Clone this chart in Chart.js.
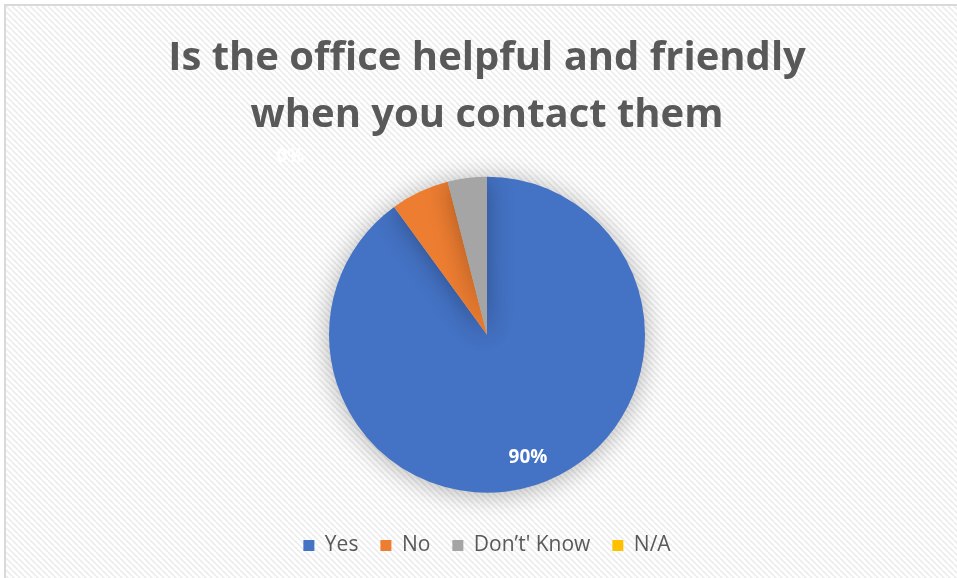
<!DOCTYPE html>
<html><head><meta charset="utf-8">
<script src="https://cdn.jsdelivr.net/npm/chart.js@4.4.1/dist/chart.umd.min.js"></script>
<style>
html,body{margin:0;padding:0;background:#fff;}
#wrap{position:absolute;left:0;top:0;width:957px;height:578px;}
</style></head>
<body><div id="wrap"><canvas id="c" width="957" height="578"></canvas></div>
<script>
const titleLines = ["Is the office helpful and friendly", "when you contact them"];
const categories = ["Yes", "No", "Don\u2019t' Know", "N/A"];
const values = [90, 6, 4, 0];
const labelTexts = ["90%", "", "", "0%"];
const colors = ["#4472C4", "#ED7D31", "#A5A5A5", "#FFC000"];

function makePattern(){
  const p = document.createElement('canvas');
  p.width = 6; p.height = 6;
  const g = p.getContext('2d');
  g.fillStyle = '#ffffff'; g.fillRect(0,0,6,6);
  g.strokeStyle = '#ececec'; g.lineWidth = 1.6;
  for (let k=-6;k<=12;k+=6){ g.beginPath(); g.moveTo(k,0); g.lineTo(k+6,6); g.stroke(); }
  return p;
}

const bgPlugin = {
  id:'bg',
  beforeDraw(chart){
    const ctx = chart.ctx;
    ctx.save();
    ctx.fillStyle = '#fff'; ctx.fillRect(0,0,chart.width,chart.height);
    ctx.fillStyle = ctx.createPattern(makePattern(),'repeat');
    ctx.fillRect(6,6,chart.width,chart.height);
    ctx.fillStyle = '#d9d9d9';
    ctx.fillRect(4,4,chart.width,2);
    ctx.fillRect(4,4,2,chart.height);
    ctx.restore();
  }
};

const shadowPlugin = {
  id:'shadow',
  beforeDatasetDraw(chart){
    const ctx = chart.ctx; ctx.save();
    ctx.shadowColor = 'rgba(0,0,0,0.3)';
    ctx.shadowBlur = 26; ctx.shadowOffsetX = 0; ctx.shadowOffsetY = 2;
  },
  afterDatasetDraw(chart){ chart.ctx.restore(); }
};

const labelPlugin = {
  id:'dlabels',
  afterDatasetsDraw(chart){
    const ctx = chart.ctx;
    const meta = chart.getDatasetMeta(0);
    ctx.save();
    ctx.font = 'bold 19px "Open Sans", sans-serif';
    ctx.textAlign = 'center'; ctx.textBaseline = 'middle';
    meta.data.forEach((arc,i)=>{
      const t = labelTexts[i]; if(!t) return;
      const {x,y,startAngle,endAngle,outerRadius} = arc.getProps(['x','y','startAngle','endAngle','outerRadius'],true);
      let px, py;
      if (values[i] > 0){
        const mid = (startAngle+endAngle)/2;
        px = x + Math.cos(mid)*outerRadius*0.84;
        py = y + Math.sin(mid)*outerRadius*0.82;
        ctx.fillStyle = '#ffffff';
      } else {
        px = x - outerRadius*1.245; py = y - outerRadius*1.13;
        ctx.fillStyle = 'rgba(255,255,255,0.95)';
      }
      ctx.fillText(t, px, py);
    });
    ctx.restore();
  }
};

new Chart(document.getElementById('c'), {
  type:'pie',
  data:{ labels:categories, datasets:[{ data:values, backgroundColor:colors, borderWidth:0, radius:158 }]},
  plugins:[bgPlugin, shadowPlugin, labelPlugin],
  options:{
    responsive:false, animation:false,
    layout:{ padding:{ left:17, right:0, top:0, bottom:12 } },
    plugins:{
      title:{ display:true, text:titleLines, color:'#595959',
        font:{ family:'"Open Sans", sans-serif', size:40, weight:'bold', lineHeight:1.42 },
        padding:{ top:30, bottom:13 } },
      legend:{ display:true, position:'bottom',
        labels:{ color:'#595959', font:{ family:'"Open Sans", sans-serif', size:21 },
          boxWidth:11, boxHeight:11, padding:22 } },
      tooltip:{ enabled:false }
    }
  }
});
</script></body></html>
